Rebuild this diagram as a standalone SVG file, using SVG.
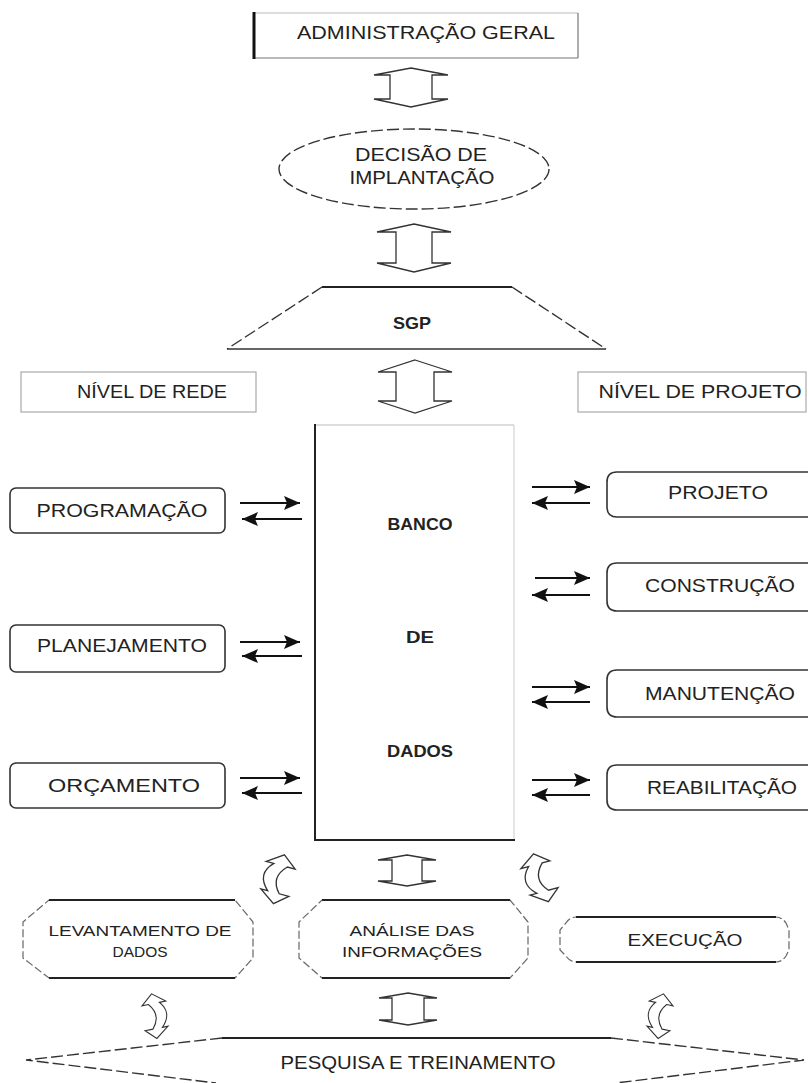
<svg xmlns="http://www.w3.org/2000/svg" width="809" height="1083" viewBox="0 0 809 1083">
<style>
text{font-family:"Liberation Sans",Arial,sans-serif;fill:#222;text-anchor:middle}
.t18{font-size:18px}
.t17{font-size:18px}
.t16{font-size:17px}
.t14{font-size:15px}
.b{font-weight:bold}
.dark{stroke:#222;stroke-width:2;fill:none}
.light{stroke:#bbb;stroke-width:1.2;fill:none}
.mid{stroke:#777;stroke-width:1.2;fill:none}
.dash{stroke:#333;stroke-width:1.4;fill:none;stroke-dasharray:12 4}
.blk{stroke:#333;stroke-width:1.3;fill:#fff}
.box{stroke:#333;stroke-width:1.6;fill:#fff}
.conn{stroke:#111;stroke-width:1.8;fill:none;marker-end:url(#ah)}
</style>
<defs>
<marker id="ah" viewBox="0 0 16 14" refX="16" refY="7" markerWidth="16" markerHeight="14" markerUnits="userSpaceOnUse" orient="auto">
<path d="M0,0 L16,7 L0,14 L3,7 Z" fill="#111"/>
</marker>
<path id="carrow" d="M0,-25 L14,-14 L6,-14 Q-8,0 5,14 L15,14 L2,25 L-14,14 L-7,14 Q-22,0 -8,-14 L-16,-14 Z"/>
</defs>
<rect width="809" height="1083" fill="#fff"/>

<g id="admin">
<line x1="254" y1="13" x2="578" y2="13" class="light"/>
<line x1="578" y1="13" x2="578" y2="58" class="mid"/>
<line x1="254" y1="58" x2="578" y2="58" class="mid"/>
<line x1="254" y1="12" x2="254" y2="59" stroke="#111" stroke-width="3"/>
<text x="426" y="39" class="t18" textLength="258" lengthAdjust="spacingAndGlyphs">ADMINISTRAÇÃO GERAL</text>
</g>

<g id="decisao">
<ellipse cx="414" cy="169" rx="135" ry="40" class="dash"/>
<text x="421" y="161" class="t18" textLength="132" lengthAdjust="spacingAndGlyphs">DECISÃO DE</text>
<text x="422" y="184" class="t18" textLength="145" lengthAdjust="spacingAndGlyphs">IMPLANTAÇÃO</text>
</g>

<g id="sgp">
<line x1="322" y1="287" x2="512" y2="287" class="dark"/>
<line x1="322" y1="287" x2="227" y2="349" class="dash" stroke-dasharray="6 3"/>
<line x1="512" y1="287" x2="606" y2="349" class="dash" stroke-dasharray="6 3"/>
<line x1="227" y1="349" x2="606" y2="349" stroke="#333" stroke-width="1.6"/>
<text x="412" y="329" class="t16 b" textLength="38" lengthAdjust="spacingAndGlyphs">SGP</text>
</g>

<g id="nivel-rede">
<rect x="21" y="372" width="235" height="40" fill="#fff" stroke="#aaa" stroke-width="1.2"/>
<text x="152" y="398" class="t17" textLength="150" lengthAdjust="spacingAndGlyphs">NÍVEL DE REDE</text>
</g>

<g id="nivel-projeto">
<rect x="578" y="372" width="228" height="40" fill="#fff" stroke="#aaa" stroke-width="1.2"/>
<text x="700" y="398" class="t17" textLength="203" lengthAdjust="spacingAndGlyphs">NÍVEL DE PROJETO</text>
</g>

<g id="banco">
<line x1="315" y1="425" x2="514" y2="425" class="light"/>
<line x1="514" y1="425" x2="514" y2="840" stroke="#ccc" stroke-width="1"/>
<line x1="315" y1="424" x2="315" y2="841" class="dark"/>
<line x1="314" y1="840" x2="515" y2="840" class="dark"/>
<text x="420" y="530" class="t16 b" textLength="65" lengthAdjust="spacingAndGlyphs">BANCO</text>
<text x="420" y="643" class="t16 b" textLength="28" lengthAdjust="spacingAndGlyphs">DE</text>
<text x="420" y="757" class="t16 b" textLength="66" lengthAdjust="spacingAndGlyphs">DADOS</text>
</g>

<g id="programacao">
<rect x="10" y="488" width="215" height="45" rx="6" class="box"/>
<text x="122" y="517" class="t17" textLength="171" lengthAdjust="spacingAndGlyphs">PROGRAMAÇÃO</text>
</g>
<g id="planejamento">
<rect x="10" y="625" width="215" height="47" rx="6" class="box"/>
<text x="122" y="652" class="t17" textLength="170" lengthAdjust="spacingAndGlyphs">PLANEJAMENTO</text>
</g>
<g id="orcamento">
<rect x="10" y="763" width="215" height="45" rx="6" class="box"/>
<text x="124" y="792" class="t17" textLength="152" lengthAdjust="spacingAndGlyphs">ORÇAMENTO</text>
</g>

<g id="projeto">
<path d="M808,472 H617 Q607,472 607,482 V507 Q607,517 617,517 H808" class="box"/>
<text x="718" y="499" class="t17" textLength="100" lengthAdjust="spacingAndGlyphs">PROJETO</text>
</g>
<g id="construcao">
<path d="M808,563 H617 Q607,563 607,573 V601 Q607,611 617,611 H808" class="box"/>
<text x="720" y="592" class="t17" textLength="150" lengthAdjust="spacingAndGlyphs">CONSTRUÇÃO</text>
</g>
<g id="manutencao">
<path d="M808,670 H617 Q607,670 607,680 V707 Q607,717 617,717 H808" class="box"/>
<text x="720" y="700" class="t17" textLength="150" lengthAdjust="spacingAndGlyphs">MANUTENÇÃO</text>
</g>
<g id="reabilitacao">
<path d="M808,765 H617 Q607,765 607,775 V800 Q607,810 617,810 H808" class="box"/>
<text x="722" y="794" class="t17" textLength="150" lengthAdjust="spacingAndGlyphs">REABILITAÇÃO</text>
</g>

<g id="levantamento">
<path d="M49,900 H235 L253,922 V958 L235,978 H49 L23,958 V922 Z" fill="#fff" stroke="#666" stroke-width="1.2" stroke-dasharray="8 3"/>
<line x1="49" y1="900" x2="235" y2="900" class="dark"/>
<line x1="49" y1="978" x2="235" y2="978" class="dark"/>
<text x="140" y="936" class="t14" textLength="183" lengthAdjust="spacingAndGlyphs">LEVANTAMENTO DE</text>
<text x="140" y="957" class="t14" textLength="55" lengthAdjust="spacingAndGlyphs">DADOS</text>
</g>

<g id="analise">
<path d="M322,900 H510 L528,922 V958 L510,978 H322 L299,958 V922 Z" fill="#fff" stroke="#666" stroke-width="1.2" stroke-dasharray="8 3"/>
<line x1="322" y1="900" x2="510" y2="900" class="dark"/>
<line x1="322" y1="978" x2="510" y2="978" class="dark"/>
<text x="412" y="936" class="t14" textLength="125" lengthAdjust="spacingAndGlyphs">ANÁLISE DAS</text>
<text x="412" y="957" class="t14" textLength="140" lengthAdjust="spacingAndGlyphs">INFORMAÇÕES</text>
</g>

<g id="execucao">
<path d="M576,917 H776 Q782,917 786,923 L789,930 V950 L786,956 Q782,962 776,962 H576 Q570,962 566,956 L560,950 V930 L566,923 Q570,917 576,917 Z" fill="#fff" stroke="#666" stroke-width="1.2" stroke-dasharray="8 3"/>
<line x1="576" y1="917" x2="776" y2="917" class="dark"/>
<line x1="576" y1="962" x2="776" y2="962" class="dark"/>
<text x="685" y="946" class="t16" textLength="115" lengthAdjust="spacingAndGlyphs">EXECUÇÃO</text>
</g>

<g id="pesquisa">
<line x1="222" y1="1038" x2="611" y2="1038" class="dark"/>
<path d="M222,1038 L26,1060 L216,1083" class="dash" stroke-dasharray="14 5"/>
<path d="M611,1038 L804,1060 L616,1083" class="dash" stroke-dasharray="14 5"/>
<text x="418" y="1069" class="t17" textLength="275" lengthAdjust="spacingAndGlyphs">PESQUISA E TREINAMENTO</text>
</g>

<g id="connectors">
<path class="blk" d="M411,68 L448,75 L432,75 L432,99 L448,99 L411,107 L374,99 L390,99 L390,75 L374,75 Z"/>
<path class="blk" d="M414,224 L451,232 L432,232 L432,263 L451,263 L414,272 L377,263 L396,263 L396,232 L377,232 Z"/>
<path class="blk" d="M415,360 L452,372 L434,372 L434,401 L452,401 L415,413 L378,401 L396,401 L396,372 L378,372 Z"/>
<line class="conn" x1="240" y1="503" x2="300" y2="503"/>
<line class="conn" x1="302" y1="519" x2="242" y2="519"/>
<line class="conn" x1="240" y1="642" x2="300" y2="642"/>
<line class="conn" x1="302" y1="656" x2="242" y2="656"/>
<line class="conn" x1="240" y1="778" x2="300" y2="778"/>
<line class="conn" x1="302" y1="793" x2="242" y2="793"/>
<line class="conn" x1="532" y1="487" x2="590" y2="487"/>
<line class="conn" x1="590" y1="503" x2="532" y2="503"/>
<line class="conn" x1="535" y1="578" x2="590" y2="578"/>
<line class="conn" x1="590" y1="595" x2="532" y2="595"/>
<line class="conn" x1="532" y1="687" x2="590" y2="687"/>
<line class="conn" x1="590" y1="702" x2="532" y2="702"/>
<line class="conn" x1="532" y1="780" x2="590" y2="780"/>
<line class="conn" x1="590" y1="795" x2="532" y2="795"/>
<path class="blk" d="M407,855 L436,860 L422,860 L422,881 L436,881 L407,886 L378,881 L392,881 L392,860 L378,860 Z"/>
<path class="blk" d="M408,993 L437,998 L424,998 L424,1020 L437,1020 L408,1025 L379,1020 L392,1020 L392,998 L379,998 Z"/>
<use href="#carrow" class="blk" transform="translate(278,879) rotate(15)"/>
<use href="#carrow" class="blk" transform="translate(540,878) rotate(-15)"/>
<use href="#carrow" class="blk" transform="translate(155,1016) scale(-0.8,0.9) rotate(10)"/>
<use href="#carrow" class="blk" transform="translate(660,1016) scale(0.8,0.9) rotate(10)"/>
</g>
</svg>
